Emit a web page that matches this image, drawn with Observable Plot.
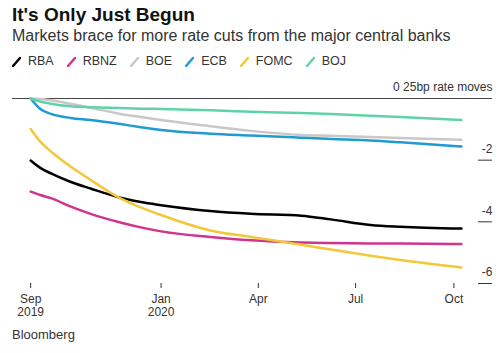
<!DOCTYPE html>
<html><head><meta charset="utf-8">
<script src="https://cdn.jsdelivr.net/npm/d3@7"></script>
<script src="https://cdn.jsdelivr.net/npm/@observablehq/plot@0.6"></script>
<style>
body{margin:0;background:#fff;font-family:"Liberation Sans",Arial,sans-serif;color:#222;width:500px;height:353px;overflow:hidden;position:relative}
#title{position:absolute;left:12px;top:4px;font-weight:bold;font-size:19px;color:#111;white-space:nowrap}
#subtitle{position:absolute;left:12px;top:27px;font-size:16px;color:#333;white-space:nowrap}
#legend{position:absolute;left:12px;top:54px;font-size:12.5px;color:#333;display:flex;white-space:nowrap}
#legend .item{display:flex;align-items:center;margin-right:13px}
#legend svg{margin-right:7px}
#chart{position:absolute;left:0;top:72px}
#caption{position:absolute;left:12px;top:327px;font-size:13px;color:#333}
</style></head><body>
<div id="title">It's Only Just Begun</div>
<div id="subtitle">Markets brace for more rate cuts from the major central banks</div>
<div id="legend"></div>
<div id="chart"></div>
<div id="caption">Bloomberg</div>
<script>
const series = ["RBA", "RBNZ", "BOE", "ECB", "FOMC", "BOJ"];
const colors = ["#000000", "#d0348e", "#c8c8c8", "#1f9bd4", "#f2c83a", "#5fd3a5"];
const dates = ["2019-09-01","2019-09-10","2019-09-20","2019-10-08","2019-10-27","2019-11-24","2019-12-13","2020-01-01","2020-02-16","2020-03-25","2020-05-11","2020-06-08","2020-07-15","2020-08-12","2020-10-08"];
const rba  = [-2.01,-2.25,-2.43,-2.70,-2.92,-3.22,-3.36,-3.46,-3.65,-3.74,-3.80,-3.92,-4.10,-4.16,-4.22];
const rbnz = [-3.02,-3.13,-3.23,-3.50,-3.74,-4.02,-4.18,-4.31,-4.49,-4.60,-4.67,-4.69,-4.70,-4.70,-4.72];
const boe  = [0,-0.02,-0.06,-0.17,-0.30,-0.50,-0.60,-0.70,-0.90,-1.05,-1.18,-1.21,-1.25,-1.28,-1.34];
const ecb  = [0,-0.34,-0.50,-0.63,-0.70,-0.83,-0.93,-1.02,-1.14,-1.20,-1.27,-1.31,-1.36,-1.42,-1.56];
const fomc = [-0.99,-1.40,-1.72,-2.20,-2.64,-3.24,-3.53,-3.78,-4.28,-4.49,-4.74,-4.90,-5.10,-5.24,-5.48];
const boj  = [0,-0.10,-0.17,-0.25,-0.28,-0.31,-0.33,-0.34,-0.38,-0.43,-0.47,-0.50,-0.56,-0.60,-0.70];
const yTicks = [0, -2, -4, -6];
const yUnit = "25bp rate moves";
const xTicks = ["2019-09-01","2020-01-01","2020-04-01","2020-07-01","2020-10-01"];
const xTickLabels = ["Sep\n2019","Jan\n2020","Apr","Jul","Oct"];

const values = [rba, rbnz, boe, ecb, fomc, boj];
const rows = [];
series.forEach((s, i) => values[i].forEach((v, j) => rows.push({series: s, date: new Date(dates[j]), value: v})));
const labelMap = new Map(xTicks.map((d, i) => [new Date(d).getTime(), xTickLabels[i]]));

// legend
const legend = document.getElementById("legend");
series.forEach((s, i) => {
  const item = document.createElement("div");
  item.className = "item";
  item.innerHTML = `<svg width="9" height="11"><line x1="1" y1="10" x2="8" y2="2" stroke="${colors[i]}" stroke-width="2.5" stroke-linecap="round"/></svg><span>${s}</span>`;
  legend.appendChild(item);
});

const d0 = new Date("2019-08-15"), d1 = new Date("2020-10-24"), dExt = new Date("2020-11-06");
const chart = Plot.plot({
  width: 500, height: 250,
  marginLeft: 12, marginRight: 22, marginTop: 26, marginBottom: 39,
  x: {type: "utc", domain: [d0, d1]},
  y: {domain: [-6, 0]},
  color: {domain: series, range: colors},
  style: {fontFamily: "'Liberation Sans', Arial, sans-serif", fontSize: "12px", color: "#333", background: "#fff"},
  marks: [
    Plot.ruleY([0], {x1: () => d0, x2: () => dExt, stroke: "#444", strokeWidth: 1}),
    Plot.ruleY(yTicks.filter(d => d !== 0), {x1: () => d1, x2: () => dExt, stroke: "#333", strokeWidth: 1}),
    Plot.axisY({anchor: "right", ticks: yTicks, tickSize: 0, tickPadding: 14, textAnchor: "end", dy: -11,
      tickFormat: d => d === 0 ? `0 ${yUnit}` : String(d), label: null, fontSize: 12}),
    Plot.axisX({ticks: xTicks.map(d => new Date(d)), tickSize: 5, tickPadding: 5, lineHeight: 1.1,
      tickFormat: d => labelMap.get(d.getTime()) ?? "", label: null, fontSize: 12}),
    Plot.line(rows, {x: "date", y: "value", stroke: "series", z: "series", strokeWidth: 2.5, curve: "monotone-x"})
  ]
});
document.getElementById("chart").appendChild(chart);
</script>
</body></html>
